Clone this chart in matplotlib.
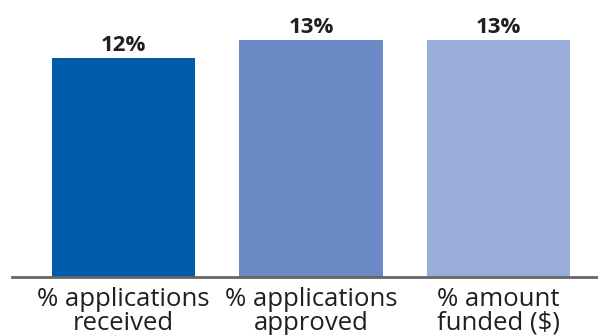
import matplotlib
matplotlib.use("Agg")
import matplotlib.pyplot as plt

categories = ["% applications\nreceived", "% applications\napproved", "% amount\nfunded ($)"]
values = [12, 13, 13]
labels = ["12%", "13%", "13%"]
colors = ["#005BAA", "#6C8BC6", "#98AED8"]

plt.rcParams['font.family'] = ['Open Sans', 'DejaVu Sans']

fig = plt.figure(figsize=(5.98, 3.35), dpi=100)
ax = fig.add_axes([0.02, 0.173, 0.98, 0.827])

x = range(len(values))
bars = ax.bar(x, values, width=0.763, color=colors)
for b, lab in zip(bars, labels):
    ax.text(b.get_x() + b.get_width() / 2, b.get_height() + 0.12, lab,
            ha='center', va='bottom', fontsize=16, fontweight='bold', color='#231f20')

ax.set_xlim(-0.595, 2.531)
ax.set_ylim(0, 15.19)
ax.set_yticks([])
ax.set_xticks(list(x))
ax.set_xticklabels(categories, fontsize=18.5, color='#231f20', linespacing=0.95)
ax.tick_params(axis='x', length=0, pad=7)
for s in ['top', 'right', 'left']:
    ax.spines[s].set_visible(False)
ax.spines['bottom'].set_color('#666666')
ax.spines['bottom'].set_linewidth(2)

fig.savefig("out.png", dpi=100)
